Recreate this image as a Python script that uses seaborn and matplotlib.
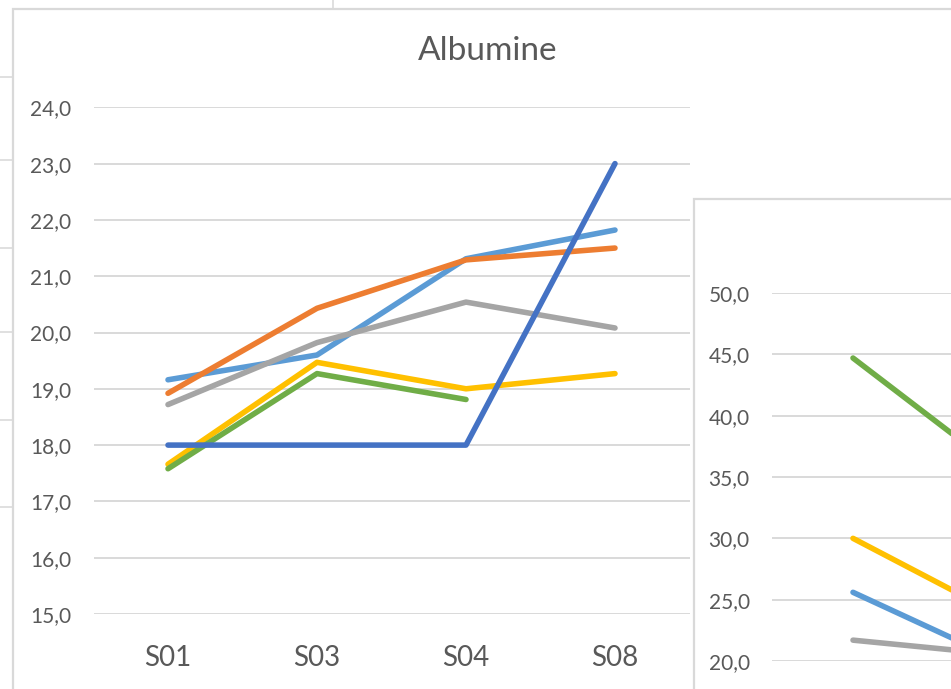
import matplotlib
matplotlib.use("Agg")
import matplotlib.pyplot as plt
from matplotlib.patches import Rectangle
from matplotlib.lines import Line2D
import numpy as np
import pandas as pd
import seaborn as sns

# ---------------- data ----------------
categories = ["S01", "S03", "S04", "S08"]
series_dark_blue = [18.0, 18.0, 18.0, 23.0]
series_orange = [18.92, 20.43, 21.29, 21.50]
series_gray = [18.72, 19.82, 20.54, 20.08]
series_yellow = [17.66, 19.47, 19.00, 19.27]
series_light_blue = [19.16, 19.60, 21.31, 21.82]
series_green = [17.58, 19.27, 18.81, np.nan]
y_ticks_main = [15, 16, 17, 18, 19, 20, 21, 22, 23, 24]
title_main = "Albumine"

# second (overlapping) chart, partially visible
categories2 = ["S01", "S03"]
series2_green = [44.7, 34.6]
series2_yellow = [30.0, 23.1]
series2_light_blue = [25.6, 19.5]
series2_gray = [21.7, 20.4]
y_ticks_second = [20, 25, 30, 35, 40, 45, 50]

C_DARK_BLUE = "#4472C4"
C_ORANGE = "#ED7D31"
C_GRAY = "#A5A5A5"
C_YELLOW = "#FFC000"
C_LIGHT_BLUE = "#5B9BD5"
C_GREEN = "#70AD47"
TEXT = "#595959"
GRID = "#D9D9D9"

sns.set_theme(style="white")
plt.rcParams["font.family"] = ["Lato", "DejaVu Sans"]

W, H = 951, 689
fig = plt.figure(figsize=(W / 100, H / 100), dpi=100)
fig.patch.set_facecolor("white")


def fx(px):
    return px / W


def fy(py):
    return 1 - py / H


def fmt(v):
    return f"{v:.1f}".replace(".", ",")


# spreadsheet background lines
for yy in [77, 160, 248, 332, 420, 507]:
    fig.add_artist(Line2D([fx(0), fx(13)], [fy(yy), fy(yy)], color="#DADADA", lw=1.2, zorder=0.1))
fig.add_artist(Line2D([fx(333), fx(333)], [fy(0), fy(9)], color="#DADADA", lw=1.2, zorder=0.1))

# main chart frame
fig.add_artist(Rectangle((fx(13), fy(H + 20)), fx(1200), fy(9) - fy(H + 20),
                         facecolor="white", edgecolor=GRID, lw=1.6, zorder=0.5))

# ---------------- main chart ----------------
x0, x1 = 93.5, 689.5
y_top, y_bot = 107.3, 614.0
ax = fig.add_axes([fx(x0), fy(y_bot), fx(x1) - fx(x0), fy(y_top) - fy(y_bot)])
ax.set_zorder(1)
ax.patch.set_visible(False)

main_series = [
    (series_light_blue, C_LIGHT_BLUE),
    (series_gray, C_GRAY),
    (series_yellow, C_YELLOW),
    (series_green, C_GREEN),
    (series_orange, C_ORANGE),
    (series_dark_blue, C_DARK_BLUE),
]
for i, (vals, col) in enumerate(main_series):
    df = pd.DataFrame({"cat": categories, "val": vals}).dropna()
    sns.lineplot(data=df, x="cat", y="val", sort=False, ax=ax, color=col, lw=4.0,
                 solid_capstyle="round", solid_joinstyle="round", zorder=3 + i)

ax.set_xlim(-0.5, 3.5)
ax.set_ylim(15, 24)
ax.set_yticks(y_ticks_main)
ax.set_yticklabels([fmt(v) for v in y_ticks_main])
ax.grid(axis="y", color=GRID, lw=1.4)
ax.grid(axis="x", visible=False)
for s in ax.spines.values():
    s.set_visible(False)
ax.tick_params(axis="y", length=0, pad=16, labelsize=15, labelcolor=TEXT)
ax.tick_params(axis="x", length=0, pad=22, labelsize=20, labelcolor=TEXT)
ax.set_xlabel("")
ax.set_ylabel("")

fig.text(fx(488), fy(51.5), title_main, ha="center", va="center",
         fontsize=24, color=TEXT)

# ---------------- second chart (overlapping) ----------------
fig.add_artist(Rectangle((fx(694), fy(H + 20)), fx(1000), fy(199) - fy(H + 20),
                         facecolor="white", edgecolor=GRID, lw=1.6, zorder=2))

sx0 = 772
cat_w = 162
sy_top, sy_bot = 293.0, 661.0
ax2 = fig.add_axes([fx(sx0), fy(sy_bot), fx(2 * cat_w), fy(sy_top) - fy(sy_bot)])
ax2.set_zorder(3)
ax2.patch.set_visible(False)

second_series = [
    (series2_gray, C_GRAY),
    (series2_light_blue, C_LIGHT_BLUE),
    (series2_yellow, C_YELLOW),
    (series2_green, C_GREEN),
]
for i, (vals, col) in enumerate(second_series):
    df = pd.DataFrame({"cat": categories2, "val": vals})
    sns.lineplot(data=df, x="cat", y="val", sort=False, ax=ax2, color=col, lw=4.0,
                 solid_capstyle="round", solid_joinstyle="round", zorder=3 + i)

ax2.set_xlim(-0.5, 1.5)
ax2.set_ylim(20, 50)
ax2.set_yticks(y_ticks_second)
ax2.set_yticklabels([fmt(v) for v in y_ticks_second])
ax2.grid(axis="y", color=GRID, lw=1.4)
ax2.grid(axis="x", visible=False)
for s in ax2.spines.values():
    s.set_visible(False)
ax2.tick_params(axis="y", length=0, pad=16, labelsize=15, labelcolor=TEXT)
ax2.tick_params(axis="x", length=0, labelbottom=False)
ax2.set_xlabel("")
ax2.set_ylabel("")

fig.savefig("out.png", dpi=100)
